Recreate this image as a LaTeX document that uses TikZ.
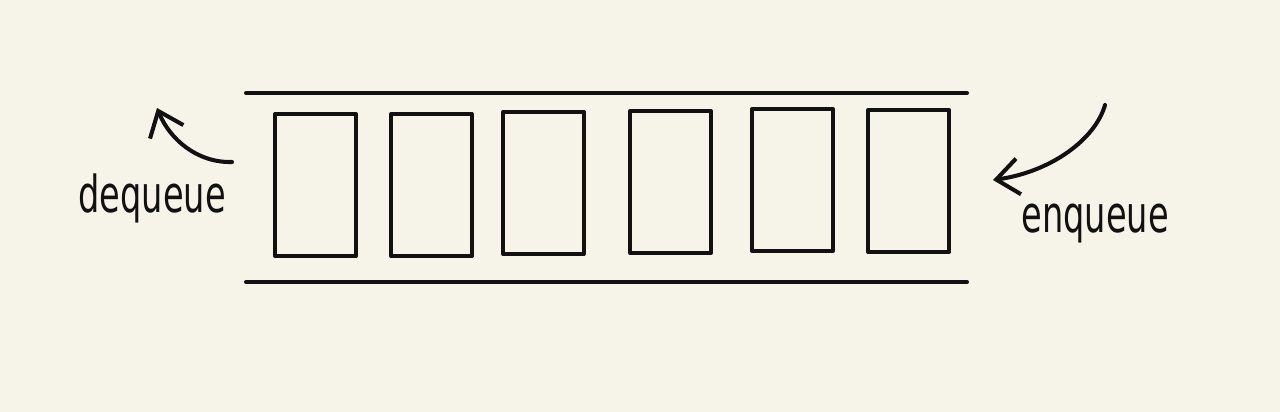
\documentclass[tikz,border=0pt]{standalone}
\usepackage{graphicx}
\usepackage{fontspec}
\usepackage{tikz}
\usetikzlibrary{arrows.meta,calc}
\newfontfamily\handfont{DejaVu Sans}
\definecolor{paper}{HTML}{F6F4E9}
\definecolor{ink}{HTML}{111111}

\begin{document}
\begin{tikzpicture}[x=0.02cm,y=-0.02cm,line width=2.3pt,line cap=round,line join=round,
  cell/.style={draw=ink,rectangle,inner sep=0pt,minimum width=1.62cm,minimum height=2.84cm},
  word/.style={anchor=base,inner sep=0pt,text=ink,font=\handfont\fontsize{29}{33}\selectfont},
  flow/.style={draw=ink,-{Straight Barb[length=0.45cm,width=0.72cm,line width=2.3pt]}}]
  % Papir
  \fill[paper] (0,0) rectangle (1280,412);
  \useasboundingbox (0,0) rectangle (1280,412);

  % Kanten af koeen
  \coordinate (L1) at (246,93);
  \coordinate (R1) at (967,93);
  \coordinate (L2) at (246,282);
  \coordinate (R2) at (967,282);
  \draw[ink] (L1) -- (R1);
  \draw[ink] (L2) -- (R2);

  % Elementer i koeen
  \node[cell] (c1) at (315.5,185) {};
  \node[cell] (c2) at (431.5,185) {};
  \node[cell] (c3) at (543.5,183) {};
  \node[cell] (c4) at (670.5,182) {};
  \node[cell] (c5) at (792.5,180) {};
  \node[cell] (c6) at (908.5,181) {};

  % Ud af koeen
  \coordinate (D0) at (232,162);
  \coordinate (D1) at (157,108);
  \draw[flow] (D0) .. controls (198,163) and (170,140) .. (D1);
  \node[word] (deq) at (152,212) {\scalebox{0.66}[1]{dequeue}};

  % Ind i koeen
  \coordinate (E0) at (1105,105);
  \coordinate (E1) at (993,180);
  \draw[flow] (E0) .. controls (1095,140) and (1050,172) .. (E1);
  \node[word] (enq) at (1095,232) {\scalebox{0.66}[1]{enqueue}};
\end{tikzpicture}
\end{document}
